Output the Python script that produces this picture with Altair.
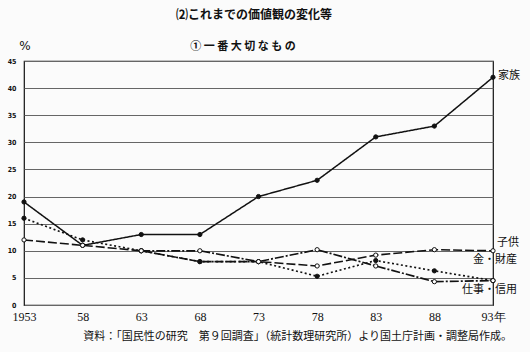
import altair as alt
import pandas as pd

years = ["1953", "58", "63", "68", "73", "78", "83", "88", "93年"]
kazoku = [19, 11, 13, 13, 20, 23, 31, 33, 42]
kodomo = [12, 11, 10, 8, 8, 7.2, 9.2, 10.2, 10]
kane = [16, 12, 10, 8, 8, 5.3, 8.2, 6.3, 4.5]
shigoto = [None, None, 10, 10, 8, 10.2, 7.2, 4.3, 4.5]

series_names = ["家族", "子供", "金・財産", "仕事・信用"]
series_vals = [kazoku, kodomo, kane, shigoto]

rows = []
for name, vals in zip(series_names, series_vals):
    for i, (yr, v) in enumerate(zip(years, vals)):
        if v is not None:
            rows.append({"year": yr, "value": v, "series": name, "order": i})
df = pd.DataFrame(rows)

last = df[df["year"] == years[-1]]

JP = "Noto Sans CJK JP"
W, H = 469, 244

x = alt.X("year:O", sort=years, scale=alt.Scale(type="point", padding=0),
          axis=alt.Axis(title=None, labelAngle=0, ticks=False, domain=False,
                        labelFont="Liberation Serif", labelFontSize=12,
                        labelColor="#111", labelPadding=6, grid=False))
y = alt.Y("value:Q", scale=alt.Scale(domain=[0, 45], nice=False),
          axis=alt.Axis(title=None, values=list(range(0, 50, 5)), ticks=False,
                        domain=False, labelFont="DejaVu Sans Condensed",
                        labelFontWeight="bold", labelFontSize=7,
                        labelColor="#111", labelPadding=8,
                        grid=True, gridColor="#666", gridWidth=1))

dash_scale = alt.Scale(domain=series_names,
                       range=[[1, 0], [9, 3], [2, 2.5], [9, 2, 2, 2]])
width_scale = alt.Scale(domain=series_names, range=[1.5, 1.7, 2.2, 1.5])

lines = alt.Chart(df).mark_line(color="#111").encode(
    x=x, y=y,
    order="order:Q",
    strokeDash=alt.StrokeDash("series:N", scale=dash_scale, legend=None),
    strokeWidth=alt.StrokeWidth("series:N", scale=width_scale, legend=None),
    detail="series:N",
)

fill_scale = alt.Scale(domain=series_names, range=["#111", "#fff", "#111", "#fff"])
points = alt.Chart(df).mark_point(filled=True, size=18, stroke="#111",
                                  strokeWidth=1, opacity=1).encode(
    x=x, y=y,
    fill=alt.Fill("series:N", scale=fill_scale, legend=None),
)

lbl_kazoku = alt.Chart(last[last["series"] == "家族"]).mark_text(
    font=JP, fontSize=11, align="left", baseline="middle", dx=5, dy=-1,
    color="#111").encode(x=x, y=y, text="series:N")
lbl_kodomo = alt.Chart(last[last["series"] == "子供"]).mark_text(
    font=JP, fontSize=11, align="left", baseline="middle", dx=4, dy=-8,
    color="#111").encode(x=x, y=y, text="series:N")
lbl_kane = alt.Chart(last[last["series"] == "金・財産"]).mark_text(
    font=JP, fontSize=11, align="right", baseline="middle", dx=24, dy=-21,
    color="#111").encode(x=x, y=y, text="series:N")
lbl_shigoto = alt.Chart(last[last["series"] == "仕事・信用"]).mark_text(
    font=JP, fontSize=11, align="right", baseline="middle", dx=24, dy=9,
    color="#111").encode(x=x, y=y, text="series:N")

title = alt.Chart(pd.DataFrame({"t": ["⑵これまでの価値観の変化等"]})).mark_text(
    font=JP, fontSize=12, fontWeight="bold", align="center", baseline="middle",
    color="#111").encode(x=alt.value(230), y=alt.value(-46), text="t:N")
subtitle = alt.Chart(pd.DataFrame({"t": ["①  一  番  大  切  な  も  の"]})).mark_text(
    font=JP, fontSize=11, fontWeight="bold", align="center", baseline="middle",
    color="#111").encode(x=alt.value(219), y=alt.value(-14), text="t:N")
pct = alt.Chart(pd.DataFrame({"t": ["%"]})).mark_text(
    font="DejaVu Sans", fontSize=12, align="center", baseline="middle",
    color="#111").encode(x=alt.value(1), y=alt.value(-15), text="t:N")
source = alt.Chart(pd.DataFrame({"t": ["資料：「国民性の研究　第９回調査」（統計数理研究所）より国土庁計画・調整局作成。"]})).mark_text(
    font=JP, fontSize=11, align="right", baseline="middle",
    color="#111").encode(x=alt.value(488), y=alt.value(32 + H), text="t:N")

chart = alt.layer(
    lines, points, lbl_kazoku, lbl_kodomo, lbl_kane, lbl_shigoto,
    title, subtitle, pct, source
).properties(
    width=W, height=H,
    autosize=alt.AutoSizeParams(type="none"),
    padding={"left": 24, "top": 61, "right": 37, "bottom": 47},
    background="#fbfbfb",
).configure_view(stroke="#111", strokeWidth=1.2)

chart.save("out.html", embed_options={"renderer": "svg", "actions": False})
